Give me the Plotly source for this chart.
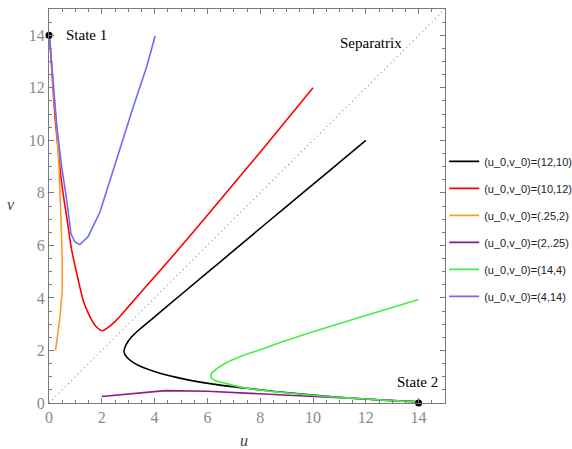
import plotly.graph_objects as go

# ---- data ----
black_u = [12, 10.64, 9, 7.55, 6.6, 5.03, 4.02, 3.4, 3.13, 2.92, 2.84, 2.95, 3.26, 4.02, 5.13, 6.22, 7.49, 8.75, 10.64, 12, 13, 14]
black_v = [10.0, 8.86, 7.49, 6.27, 5.47, 4.15, 3.3, 2.78, 2.52, 2.22, 1.95, 1.74, 1.5, 1.19, 0.91, 0.72, 0.56, 0.42, 0.25, 0.15, 0.09, 0.05]

red_u = [10, 8, 6, 4.77, 3.89, 3.0, 2.5, 2.2, 2.02, 1.75, 1.49, 1.29, 1.11, 0.86, 0.67, 0.48, 0.35, 0.22, 0.12, 0.03]
red_v = [12, 9.55, 7.15, 5.69, 4.68, 3.66, 3.1, 2.85, 2.75, 2.95, 3.41, 3.92, 4.68, 5.82, 7.08, 8.36, 9.62, 11.0, 12.5, 13.85]

orange_u = [0.25, 0.42, 0.5, 0.5, 0.47, 0.44, 0.38, 0.3, 0.2, 0.1, 0.02]
orange_v = [2.0, 3.3, 4.3, 5.5, 6.5, 7.7, 9.0, 10.3, 11.7, 13.0, 13.9]

purple_u = [2, 4.4, 6, 8, 10, 12, 14]
purple_v = [0.25, 0.47, 0.45, 0.35, 0.24, 0.13, 0.05]

green_u = [14, 12, 10.64, 9.5, 8.75, 8, 7.23, 6.7, 6.35, 6.15, 6.15, 6.3, 6.6, 7.49, 8.75, 10.64, 12, 13, 14]
green_v = [3.94, 3.33, 2.91, 2.55, 2.3, 2.03, 1.76, 1.52, 1.3, 1.12, 0.96, 0.85, 0.77, 0.56, 0.41, 0.24, 0.15, 0.09, 0.05]

blue_u = [4.02, 3.7, 3.19, 2.56, 2.37, 1.93, 1.49, 1.17, 0.98, 0.83, 0.67, 0.48, 0.3, 0.15, 0.02]
blue_v = [13.97, 12.8, 11.27, 9.24, 8.6, 7.27, 6.35, 6.03, 6.13, 6.45, 7.72, 8.99, 10.5, 12.2, 13.9]

sep_u = [0, 15]
sep_v = [0, 15]

state_u = [0, 14]
state_v = [14, 0]

labels = ["(u_0,v_0)=(12,10)", "(u_0,v_0)=(10,12)", "(u_0,v_0)=(.25,2)",
          "(u_0,v_0)=(2,.25)", "(u_0,v_0)=(14,4)", "(u_0,v_0)=(4,14)"]
colors = ["#000000", "#ff0000", "#ff9a2e", "#8b1a8b", "#44ee44", "#6b6bff"]
shapes = ["spline", "spline", "linear", "linear", "spline", "linear"]
series = [(black_u, black_v), (red_u, red_v), (orange_u, orange_v),
          (purple_u, purple_v), (green_u, green_v), (blue_u, blue_v)]

fig = go.Figure()

fig.add_trace(go.Scatter(x=sep_u, y=sep_v, mode="lines",
                         line=dict(color="#999999", width=1.3, dash="1px,3.5px"),
                         showlegend=False, hoverinfo="skip"))

for i, ((u, v), name, c, sh) in enumerate(zip(series, labels, colors, shapes)):
    line = dict(color=c, width=1.6, shape=sh)
    if sh == "spline":
        line["smoothing"] = 0.7
    fig.add_trace(go.Scatter(x=u, y=v, mode="lines", name=name,
                             line=line, legendgroup="g%d" % i))

fig.add_trace(go.Scatter(x=state_u, y=state_v, mode="markers",
                         marker=dict(color="black", size=7, line=dict(width=0)),
                         cliponaxis=False,
                         showlegend=False, hoverinfo="skip"))

axis_common = dict(
    showgrid=False, zeroline=False,
    showline=True, linecolor="#7a7a7a", linewidth=1, mirror="ticks",
    ticks="inside", ticklen=5, tickcolor="#7a7a7a", tickwidth=1,
    tickfont=dict(family="Liberation Serif", size=16, color="#8a8a8a"),
    dtick=2, tick0=0,
    minor=dict(dtick=0.5, ticks="inside", ticklen=3, tickcolor="#7a7a7a", showgrid=False),
)

fig.update_layout(
    width=572, height=449,
    margin=dict(l=49, r=127, t=9, b=46, autoexpand=False),
    paper_bgcolor="white", plot_bgcolor="white",
    xaxis=dict(range=[0, 15], **axis_common),
    yaxis=dict(range=[0, 15], **axis_common),
    legend=dict(x=0.998, y=0.65, xanchor="left", yanchor="top",
                font=dict(family="Liberation Sans", size=11, color="#222"),
                tracegroupgap=8, bgcolor="rgba(0,0,0,0)"),
    showlegend=True,
    annotations=[
        dict(x=0.57, y=14, xref="x", yref="y", text="State 1", showarrow=False,
             xanchor="left", yanchor="middle",
             font=dict(family="Liberation Serif", size=15, color="black")),
        dict(x=13.95, y=0.8, xref="x", yref="y", text="State 2", showarrow=False,
             xanchor="center", yanchor="middle",
             font=dict(family="Liberation Serif", size=15, color="black")),
        dict(x=12.2, y=13.7, xref="x", yref="y", text="Separatrix", showarrow=False,
             xanchor="center", yanchor="middle",
             font=dict(family="Liberation Serif", size=15, color="black")),
        dict(x=0.492, y=-0.095, xref="paper", yref="paper", text="<i>u</i>", showarrow=False,
             xanchor="center", yanchor="middle",
             font=dict(family="Liberation Serif", size=16, color="#444")),
        dict(x=-0.095, y=0.505, xref="paper", yref="paper", text="<i>v</i>", showarrow=False,
             xanchor="center", yanchor="middle",
             font=dict(family="Liberation Serif", size=16, color="#444")),
    ],
)

fig.write_html("out.html")
